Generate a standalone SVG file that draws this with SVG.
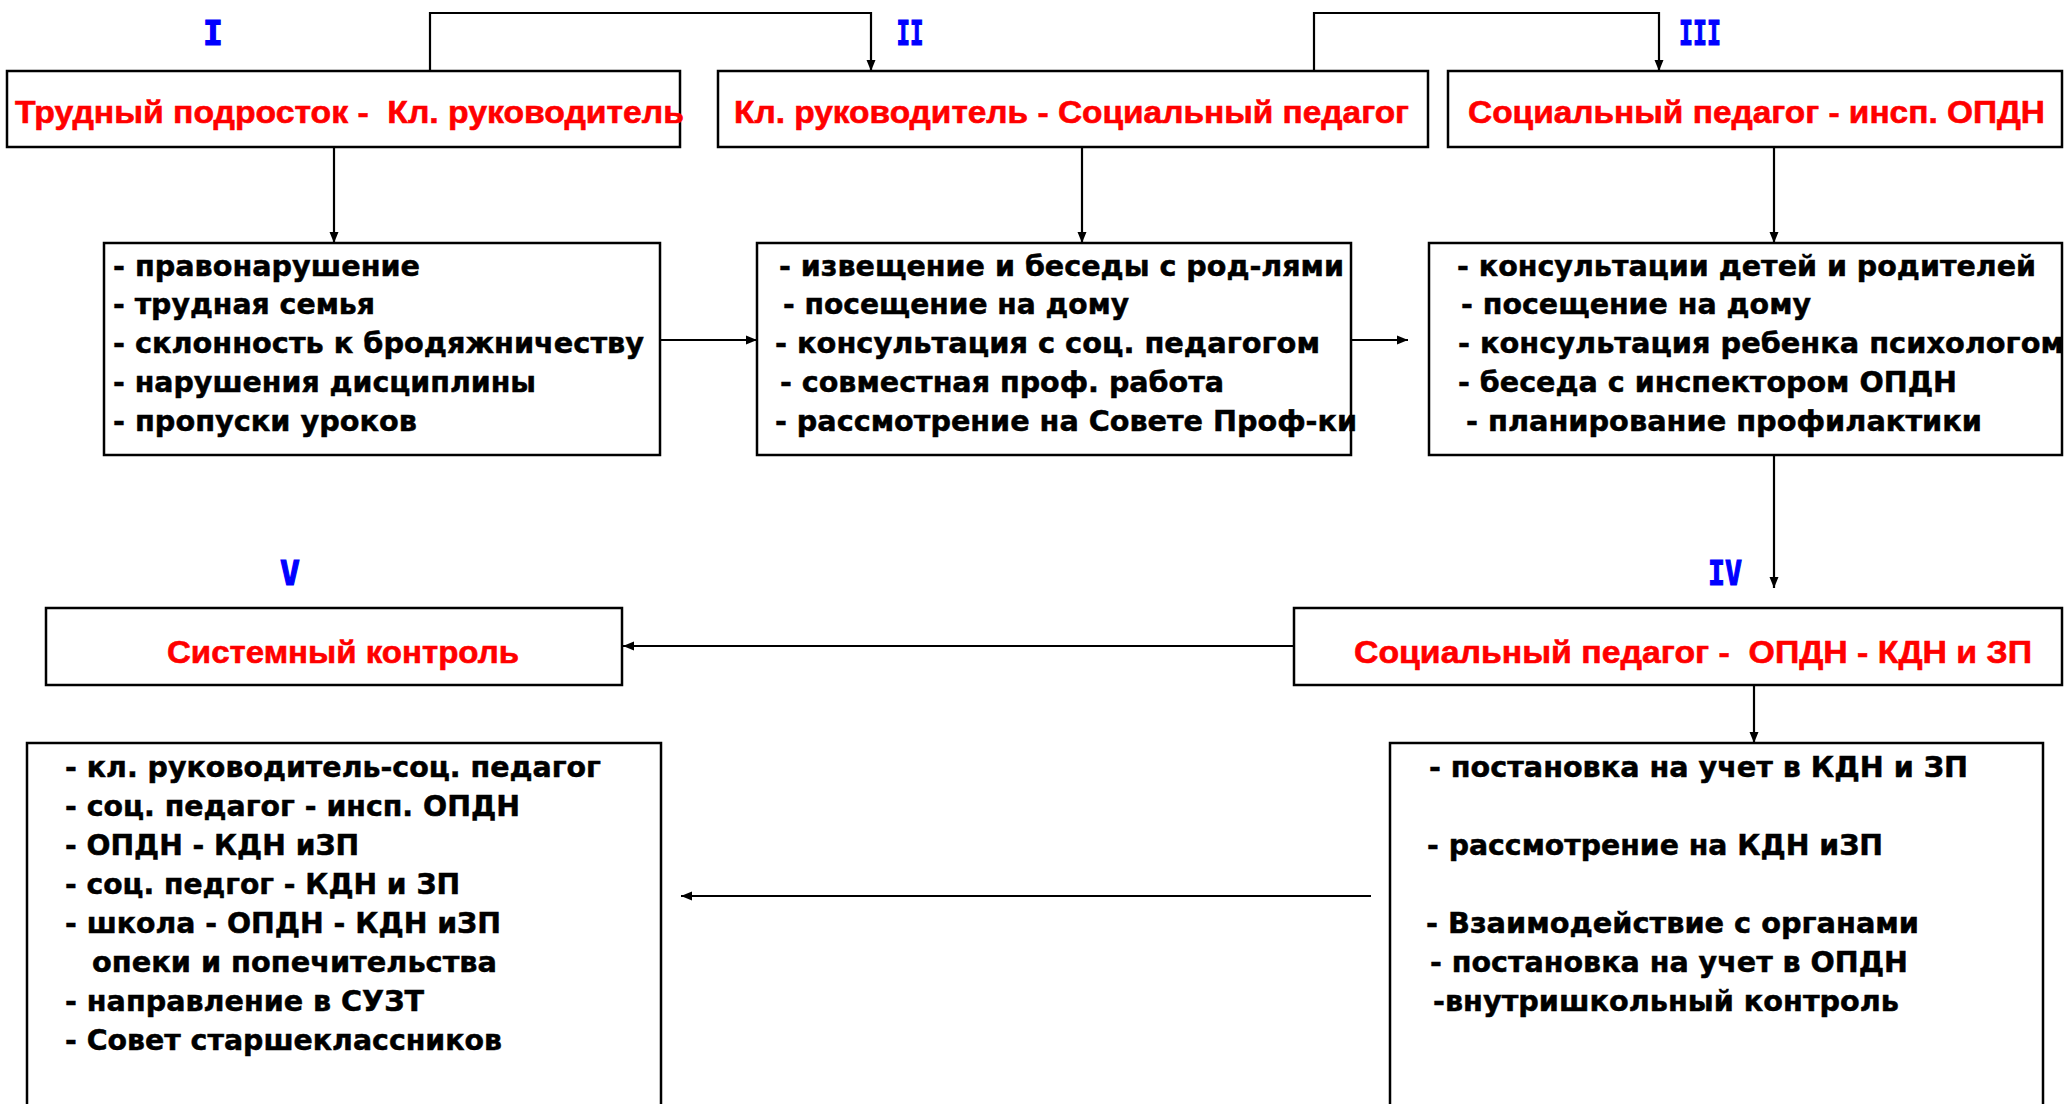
<svg xmlns="http://www.w3.org/2000/svg" width="2067" height="1104" viewBox="0 0 2067 1104">
<defs>
<marker id="arr" markerUnits="userSpaceOnUse" markerWidth="12" markerHeight="10" refX="11" refY="5" orient="auto">
<path d="M0,0.5 L11,5 L0,9.5 z" fill="#000"/>
</marker>
<style>
.box{fill:#fff;stroke:#000;stroke-width:2.5}
.title{font-family:"Liberation Sans","DejaVu Sans",sans-serif;font-weight:bold;font-size:32px;fill:#ff0000;stroke:#ff0000;stroke-width:0.6;white-space:pre}
.body{font-family:"DejaVu Sans","Liberation Sans",sans-serif;font-weight:bold;font-size:28px;fill:#000;stroke:#000;stroke-width:0.5;white-space:pre}
.num{font-family:"DejaVu Sans Mono","Liberation Mono",monospace;font-weight:bold;font-size:33px;fill:#0000ff;stroke:#0000ff;stroke-width:1.2;text-anchor:middle}
.con{fill:none;stroke:#000;stroke-width:2.2}
</style>
</defs>
<rect width="2067" height="1104" fill="#fff"/>

<g id="labels">
<text class="num" x="213" y="45">I</text>
<text class="num" x="910" y="45" textLength="27" lengthAdjust="spacingAndGlyphs">II</text>
<text class="num" x="1700" y="45" textLength="42" lengthAdjust="spacingAndGlyphs">III</text>
<text class="num" x="1725" y="585" textLength="34" lengthAdjust="spacingAndGlyphs">IV</text>
<text class="num" x="290" y="585">V</text>
</g>

<g id="connectors">
<path class="con" d="M430,71 V13 H871 V71" marker-end="url(#arr)"/>
<path class="con" d="M1314,71 V13 H1659 V71" marker-end="url(#arr)"/>
<path class="con" d="M334,148 V243" marker-end="url(#arr)"/>
<path class="con" d="M1082,148 V243" marker-end="url(#arr)"/>
<path class="con" d="M1774,148 V243" marker-end="url(#arr)"/>
<path class="con" d="M660,340 H757" marker-end="url(#arr)"/>
<path class="con" d="M1352,340 H1408" marker-end="url(#arr)"/>
<path class="con" d="M1774,455 V588" marker-end="url(#arr)"/>
<path class="con" d="M1314,646 H623" marker-end="url(#arr)"/>
<path class="con" d="M1754,685 V743" marker-end="url(#arr)"/>
<path class="con" d="M1371,896 H681" marker-end="url(#arr)"/>
</g>

<g id="node1">
<rect class="box" x="7" y="71" width="673" height="76"/>
<text class="title" x="15" y="123" textLength="669" lengthAdjust="spacingAndGlyphs">Трудный подросток -  Кл. руководитель</text>
</g>
<g id="node2">
<rect class="box" x="718" y="71" width="710" height="76"/>
<text class="title" x="734" y="123" textLength="675" lengthAdjust="spacingAndGlyphs">Кл. руководитель - Социальный педагог</text>
</g>
<g id="node3">
<rect class="box" x="1448" y="71" width="614" height="76"/>
<text class="title" x="1468" y="123" textLength="577" lengthAdjust="spacingAndGlyphs">Социальный педагог - инсп. ОПДН</text>
</g>

<g id="node4">
<rect class="box" x="104" y="243" width="556" height="212"/>
<text class="body" x="113" y="276" textLength="307" lengthAdjust="spacingAndGlyphs">- правонарушение</text>
<text class="body" x="113" y="314" textLength="262" lengthAdjust="spacingAndGlyphs">- трудная семья</text>
<text class="body" x="113" y="353" textLength="531" lengthAdjust="spacingAndGlyphs">- склонность к бродяжничеству</text>
<text class="body" x="113" y="392" textLength="423" lengthAdjust="spacingAndGlyphs">- нарушения дисциплины</text>
<text class="body" x="113" y="431" textLength="304" lengthAdjust="spacingAndGlyphs">- пропуски уроков</text>
</g>

<g id="node5">
<rect class="box" x="757" y="243" width="594" height="212"/>
<text class="body" x="779" y="276" textLength="565" lengthAdjust="spacingAndGlyphs">- извещение и беседы с род-лями</text>
<text class="body" x="783" y="314" textLength="346" lengthAdjust="spacingAndGlyphs">- посещение на дому</text>
<text class="body" x="775" y="353" textLength="545" lengthAdjust="spacingAndGlyphs">- консультация с соц. педагогом</text>
<text class="body" x="780" y="392" textLength="444" lengthAdjust="spacingAndGlyphs">- совместная проф. работа</text>
<text class="body" x="775" y="431" textLength="582" lengthAdjust="spacingAndGlyphs">- рассмотрение на Совете Проф-ки</text>
</g>

<g id="node6">
<rect class="box" x="1429" y="243" width="633" height="212"/>
<text class="body" x="1457" y="276" textLength="579" lengthAdjust="spacingAndGlyphs">- консультации детей и родителей</text>
<text class="body" x="1461" y="314" textLength="350" lengthAdjust="spacingAndGlyphs">- посещение на дому</text>
<text class="body" x="1458" y="353" textLength="606" lengthAdjust="spacingAndGlyphs">- консультация ребенка психологом</text>
<text class="body" x="1458" y="392" textLength="499" lengthAdjust="spacingAndGlyphs">- беседа с инспектором ОПДН</text>
<text class="body" x="1466" y="431" textLength="516" lengthAdjust="spacingAndGlyphs">- планирование профилактики</text>
</g>

<g id="node7">
<rect class="box" x="46" y="608" width="576" height="77"/>
<text class="title" x="167" y="663" textLength="352" lengthAdjust="spacingAndGlyphs">Системный контроль</text>
</g>

<g id="node8">
<rect class="box" x="1294" y="608" width="768" height="77"/>
<text class="title" x="1354" y="663" textLength="678" lengthAdjust="spacingAndGlyphs">Социальный педагог -  ОПДН - КДН и ЗП</text>
</g>

<g id="node9">
<rect class="box" x="27" y="743" width="634" height="380"/>
<text class="body" x="65" y="777" textLength="536" lengthAdjust="spacingAndGlyphs">- кл. руководитель-соц. педагог</text>
<text class="body" x="65" y="816" textLength="455" lengthAdjust="spacingAndGlyphs">- соц. педагог - инсп. ОПДН</text>
<text class="body" x="65" y="855" textLength="294" lengthAdjust="spacingAndGlyphs">- ОПДН - КДН иЗП</text>
<text class="body" x="65" y="894" textLength="395" lengthAdjust="spacingAndGlyphs">- соц. педгог - КДН и ЗП</text>
<text class="body" x="65" y="933" textLength="436" lengthAdjust="spacingAndGlyphs">- школа - ОПДН - КДН иЗП</text>
<text class="body" x="92" y="972" textLength="405" lengthAdjust="spacingAndGlyphs">опеки и попечительства</text>
<text class="body" x="65" y="1011" textLength="359" lengthAdjust="spacingAndGlyphs">- направление в СУЗТ</text>
<text class="body" x="65" y="1050" textLength="437" lengthAdjust="spacingAndGlyphs">- Совет старшеклассников</text>
</g>

<g id="node10">
<rect class="box" x="1390" y="743" width="653" height="380"/>
<text class="body" x="1429" y="777" textLength="539" lengthAdjust="spacingAndGlyphs">- постановка на учет в КДН и ЗП</text>
<text class="body" x="1427" y="855" textLength="456" lengthAdjust="spacingAndGlyphs">- рассмотрение на КДН иЗП</text>
<text class="body" x="1426" y="933" textLength="493" lengthAdjust="spacingAndGlyphs">- Взаимодействие с органами</text>
<text class="body" x="1430" y="972" textLength="478" lengthAdjust="spacingAndGlyphs">- постановка на учет в ОПДН</text>
<text class="body" x="1433" y="1011" textLength="466" lengthAdjust="spacingAndGlyphs">-внутришкольный контроль</text>
</g>
</svg>
